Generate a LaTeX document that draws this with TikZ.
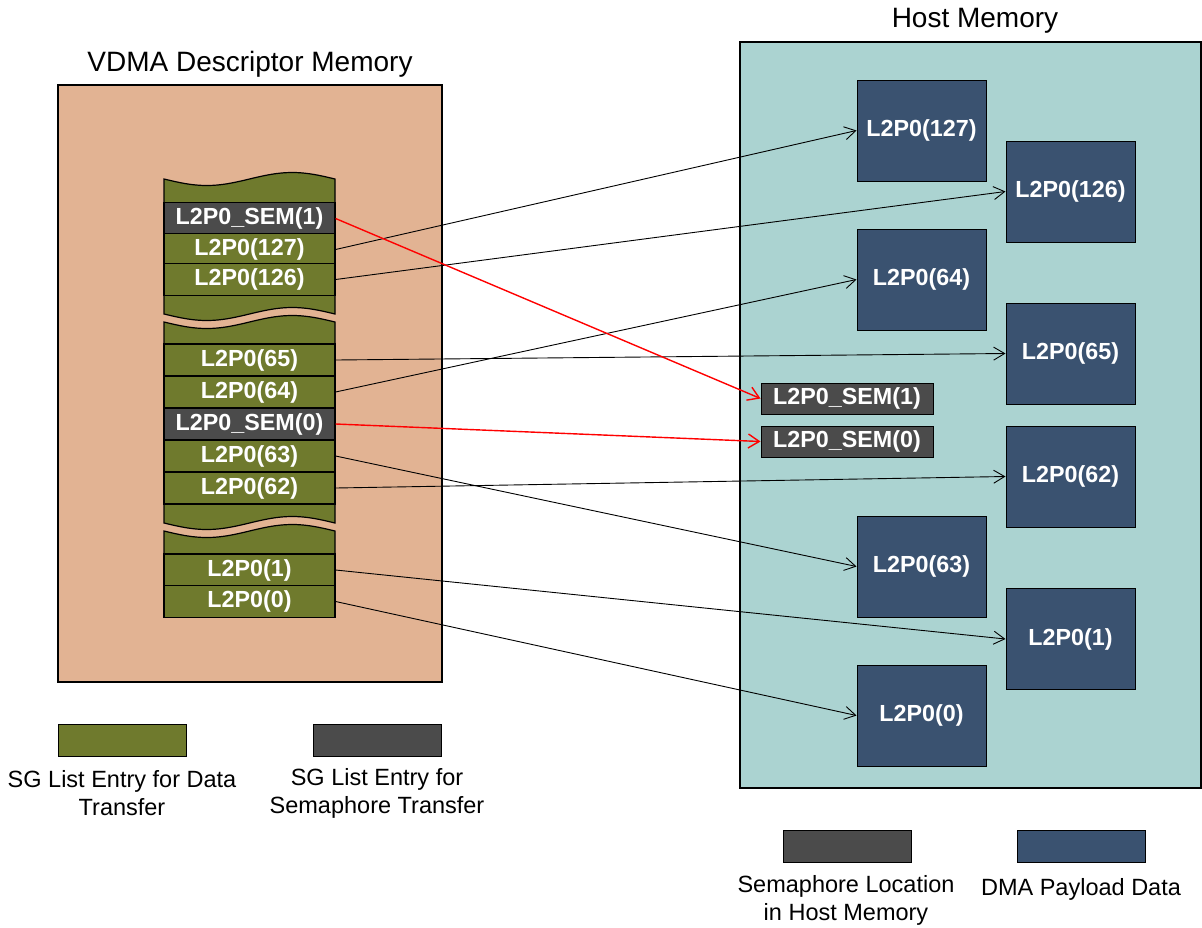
\documentclass[tikz,border=0pt]{standalone}
\usepackage{fontspec}
\setmainfont{Liberation Sans}
\usetikzlibrary{arrows.meta}
\definecolor{tanbg}{HTML}{E2B393}
\definecolor{tealbg}{HTML}{ABD3D1}
\definecolor{olivec}{HTML}{6F7A2D}
\definecolor{semgray}{HTML}{4B4B4B}
\definecolor{navyc}{HTML}{3A5270}
\newcommand{\lblfont}{\fontsize{23.3}{28}\selectfont\bfseries}
\newcommand{\ttlfont}{\fontsize{28}{34}\selectfont}
\newcommand{\lgdfont}{\fontsize{23.5}{28}\selectfont}
\begin{document}
\begin{tikzpicture}[x=1pt,y=-1pt,
  memframe/.style={draw=black, line width=2.5},
  blockfill/.style={fill=olivec, draw=black, line width=1.2},
  rowD/.style={draw=black, line width=1.2, fill=olivec, minimum width=171, minimum height=32, inner sep=0, font=\lblfont, text=white},
  rowS/.style={rowD, fill=semgray},
  payload/.style={draw=black, line width=1, fill=navyc, minimum width=129, minimum height=101, inner sep=0, font=\lblfont, text=white},
  semloc/.style={draw=black, line width=1, fill=semgray, minimum width=172, minimum height=31, inner sep=0, font=\lblfont, text=white},
  swatch/.style={draw=black, line width=1, minimum width=128, minimum height=32, inner sep=0},
  lgd/.style={font=\lgdfont, align=center, inner sep=0},
  ttl/.style={font=\ttlfont, inner sep=0},
  link/.style={draw=black, line width=0.9, -{Straight Barb[length=11, width=13, line width=0.9]}},
  semlink/.style={draw=red, line width=1.4, -{Straight Barb[length=11, width=14, line width=1.4]}}
]
\useasboundingbox (0,0) rectangle (1202,927);

% memory regions
\fill[tanbg] (58,85) rectangle (442,682);
\draw[memframe] (58,85) rectangle (442,682);
\fill[tealbg] (740,42) rectangle (1201,788);
\draw[memframe] (740,42) rectangle (1201,788);
\node[ttl] (vdmattl) at (250,64) {VDMA Descriptor Memory};
\node[ttl] (hostttl) at (975,20.5) {Host Memory};

% scatter-gather list blocks with torn (wavy) edges; one sine period across 171pt
\path[blockfill] plot[domain=0:171, samples=50] ({164+\x},{179+6.5*sin(2.10526*\x)})
  -- plot[domain=171:0, samples=50] ({164+\x},{314+6.5*sin(2.10526*\x)}) -- cycle;
\path[blockfill] plot[domain=0:171, samples=50] ({164+\x},{322+6.5*sin(2.10526*\x)})
  -- plot[domain=171:0, samples=50] ({164+\x},{523+6.5*sin(2.10526*\x)}) -- cycle;
\path[blockfill] plot[domain=0:171, samples=50] ({164+\x},{531+6.5*sin(2.10526*\x)})
  -- (335,617) -- (164,617) -- cycle;

% descriptor entries
\node[rowS] (ds1)  at (249.5,218.5) {L2P0\_SEM(1)};
\node[rowD] (d127) at (249.5,249.5) {L2P0(127)};
\node[rowD] (d126) at (249.5,279.5) {L2P0(126)};
\node[rowD] (d65)  at (249.5,360) {L2P0(65)};
\node[rowD] (d64)  at (249.5,392) {L2P0(64)};
\node[rowS] (ds0)  at (249.5,424) {L2P0\_SEM(0)};
\node[rowD] (d63)  at (249.5,456) {L2P0(63)};
\node[rowD] (d62)  at (249.5,488) {L2P0(62)};
\node[rowD] (d1)   at (249.5,570) {L2P0(1)};
\node[rowD] (d0)   at (249.5,601.5) {L2P0(0)};

% host memory buffers
\node[payload] (h127) at (921.5,130.5) {L2P0(127)};
\node[payload] (h126) at (1070.5,191.5) {L2P0(126)};
\node[payload] (h64)  at (921.5,279.5) {L2P0(64)};
\node[payload] (h65)  at (1070.5,353.5) {L2P0(65)};
\node[payload] (h62)  at (1070.5,476.5) {L2P0(62)};
\node[payload] (h63)  at (921.5,566.5) {L2P0(63)};
\node[payload] (h1)   at (1070.5,639) {L2P0(1)};
\node[payload] (h0)   at (921.5,715.5) {L2P0(0)};
\node[semloc] (hs1) at (847,398.5) {L2P0\_SEM(1)};
\node[semloc] (hs0) at (847,441.5) {L2P0\_SEM(0)};

% descriptor -> buffer mapping
\draw[link] (d127.east) -- (h127.west);
\draw[link] (d126.east) -- (h126.west);
\draw[link] (d65.east) -- (h65.west);
\draw[link] (d64.east) -- (h64.west);
\draw[link] (d63.east) -- (h63.west);
\draw[link] (d62.east) -- (h62.west);
\draw[link] (d1.east) -- (h1.west);
\draw[link] (d0.east) -- (h0.west);
\draw[semlink] (ds1.east) -- (hs1.west);
\draw[semlink] (ds0.east) -- (hs0.west);

% legend
\node[swatch, fill=olivec] (kdata) at (122,740) {};
\node[lgd] (kdatat) at (122,793) {SG List Entry for Data\\Transfer};
\node[swatch, fill=semgray] (ksem) at (377,740) {};
\node[lgd] (ksemt) at (377,793) {SG List Entry for\\Semaphore Transfer};
\node[swatch, fill=semgray] (kloc) at (847,846) {};
\node[lgd] (kloct) at (846,900) {Semaphore Location\\in Host Memory};
\node[swatch, fill=navyc] (kpay) at (1081,846) {};
\node[lgd] (kpayt) at (1081,889) {DMA Payload Data};
\end{tikzpicture}
\end{document}
